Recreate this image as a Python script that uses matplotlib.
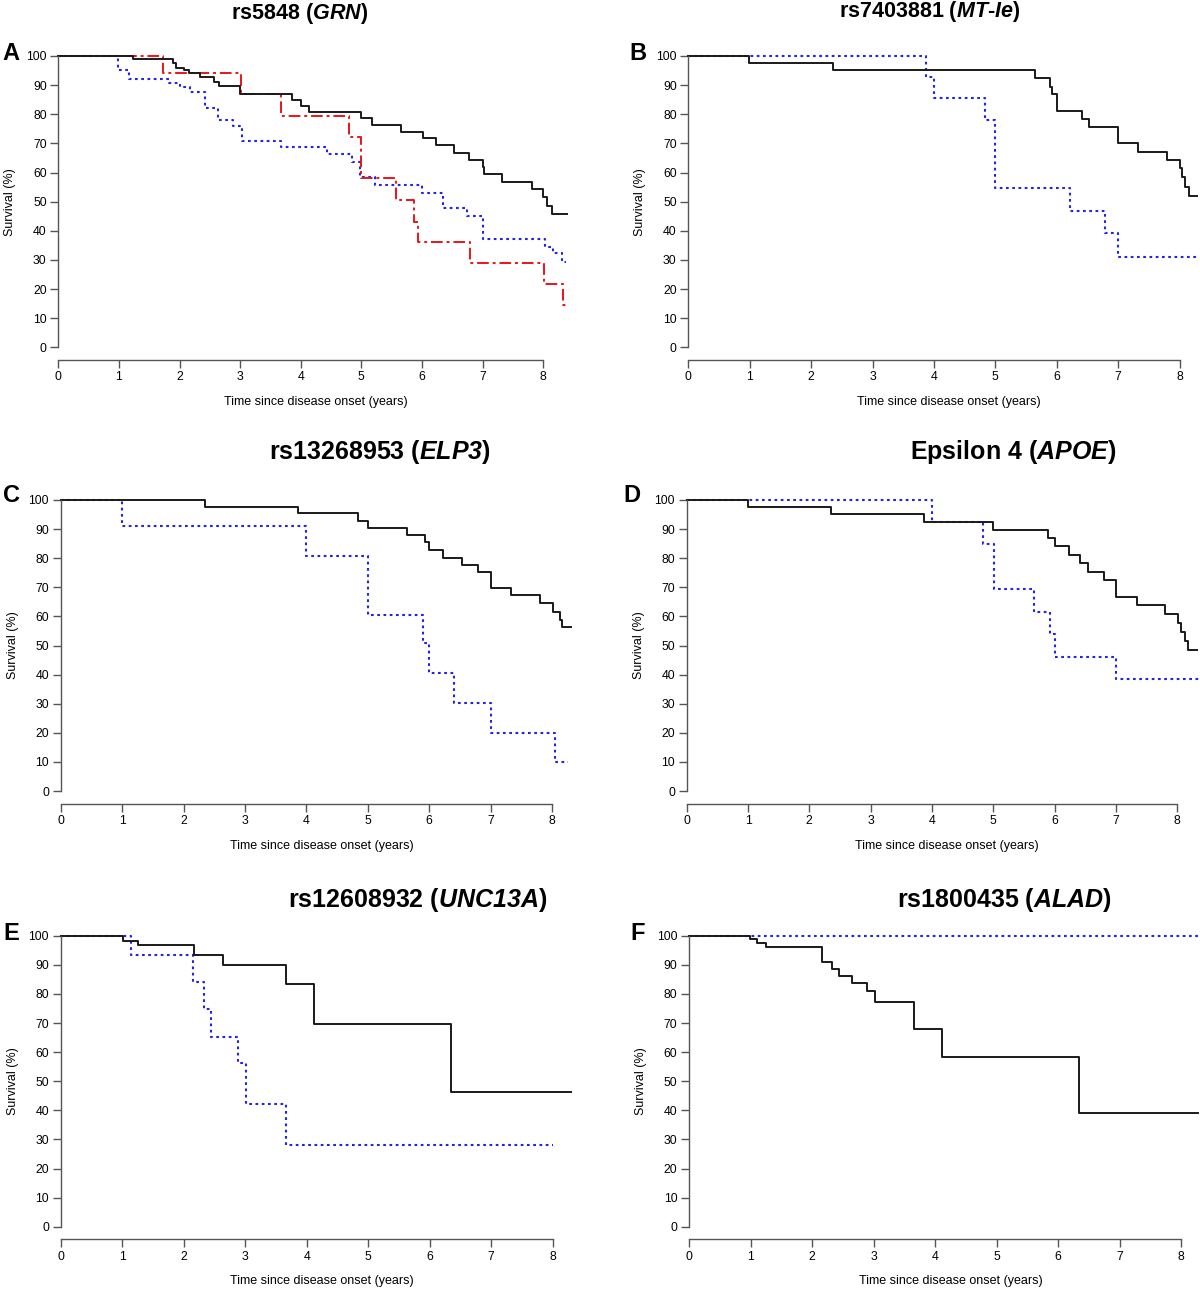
import numpy as np
import matplotlib
matplotlib.use("Agg")
from matplotlib import pyplot as plt

plt.rcParams['font.family'] = ['Liberation Sans', 'DejaVu Sans']
plt.rcParams['mathtext.fontset'] = 'custom'
# gene names: bold italic, digits included
plt.rcParams['mathtext.it'] = 'Liberation Sans:italic:bold'
plt.rcParams['mathtext.rm'] = 'Liberation Sans:italic:bold'

W, H = 1200, 1292

# --- survival curves (time in years, survival in %) ---
a_black_t = [0, 1.24, 1.90, 1.95, 2.08, 2.16, 2.34, 2.57, 2.65, 3.00, 3.86, 4.00, 4.13, 5.00, 5.17,
             5.65, 6.01, 6.23, 6.53, 6.77, 7.00, 7.02, 7.33, 7.81, 8.00, 8.07, 8.14, 8.40]
a_black_s = [100, 98.9, 97.7, 96.0, 95.2, 94.1, 92.7, 91.2, 89.8, 86.9, 84.9, 82.8, 80.8, 78.6, 76.3,
             74.0, 71.7, 69.3, 66.8, 64.3, 62.0, 59.4, 56.9, 54.2, 51.5, 48.6, 45.8, 45.8]
a_red_t = [0, 1.73, 3.01, 3.67, 4.80, 5.00, 5.58, 5.87, 5.93, 6.80, 8.01, 8.33, 8.40]
a_red_s = [100, 94.1, 86.9, 79.4, 72.3, 58.0, 50.6, 43.1, 36.3, 29.0, 21.7, 14.5, 14.5]
a_blue_t = [0, 0.99, 1.16, 1.82, 2.01, 2.17, 2.42, 2.64, 2.89, 3.03, 3.67, 4.43, 4.84, 4.98, 5.23,
            6.00, 6.35, 6.74, 7.00, 8.03, 8.17, 8.31, 8.38]
a_blue_s = [100, 95.2, 92.1, 90.8, 89.5, 87.8, 82.0, 78.0, 76.0, 70.8, 68.7, 66.2, 63.7, 58.6, 55.7,
            53.1, 47.7, 45.2, 37.2, 34.5, 32.3, 29.4, 29.4]

b_black_t = [0, 0.99, 2.36, 5.64, 5.89, 5.93, 6.00, 6.41, 6.52, 7.00, 7.33, 7.79, 8.00, 8.04, 8.09, 8.15, 8.29]
b_black_s = [100, 97.7, 95.2, 92.6, 89.5, 87.0, 81.2, 78.4, 75.5, 70.0, 67.2, 64.3, 61.4, 58.6, 55.1, 52.0, 52.0]
b_blue_t = [0, 3.87, 4.00, 4.84, 5.00, 6.22, 6.79, 7.00, 8.29]
b_blue_s = [100, 92.9, 85.7, 78.0, 54.6, 46.8, 39.1, 31.1, 31.1]

c_black_t = [0, 2.35, 3.87, 4.85, 5.01, 5.64, 5.93, 6.00, 6.22, 6.53, 6.80, 7.01, 7.33, 7.80, 8.01, 8.13, 8.17, 8.31]
c_black_s = [100, 97.7, 95.4, 92.9, 90.5, 88.0, 85.4, 82.8, 80.2, 77.6, 75.1, 69.9, 67.3, 64.6, 61.6, 58.8, 56.2, 56.2]
c_blue_t = [0, 1.0, 4.0, 5.01, 5.9, 6.0, 6.41, 7.0, 8.05, 8.26]
c_blue_s = [100, 90.9, 80.8, 60.5, 50.7, 40.4, 30.3, 20.1, 10.0, 10.0]

d_black_t = [0, 1.0, 2.35, 3.87, 5.0, 5.90, 6.01, 6.23, 6.42, 6.54, 6.81, 7.01, 7.34, 7.81, 8.01, 8.06, 8.13, 8.17, 8.32]
d_black_s = [100, 97.7, 95.1, 92.5, 89.7, 86.8, 84.2, 81.1, 78.2, 75.4, 72.5, 66.5, 63.8, 60.7, 57.6, 54.6, 51.5, 48.5, 48.5]
d_blue_t = [0, 4.0, 4.84, 5.01, 5.66, 5.93, 6.01, 7.01, 8.35]
d_blue_s = [100, 92.3, 84.8, 69.3, 61.5, 53.8, 46.2, 38.5, 38.5]

e_black_t = [0, 1.01, 1.25, 2.17, 2.64, 3.67, 4.12, 6.34, 8.29]
e_black_s = [100, 98.3, 96.7, 93.5, 90.0, 83.4, 69.5, 46.3, 46.3]
e_blue_t = [0, 1.14, 2.15, 2.33, 2.44, 2.89, 3.02, 3.66, 8.01]
e_blue_s = [100, 93.5, 84.2, 74.7, 65.3, 56.2, 42.2, 28.0, 28.0]

f_black_t = [0, 0.99, 1.10, 1.25, 2.16, 2.33, 2.44, 2.65, 2.89, 3.02, 3.66, 4.12, 6.34, 8.28]
f_black_s = [100, 98.7, 97.4, 96.0, 91.1, 88.6, 86.2, 83.6, 81.1, 77.1, 67.9, 58.4, 39.0, 39.0]
f_blue_t = [0, 8.28]
f_blue_s = [100, 100]

letters = ['A', 'B', 'C', 'D', 'E', 'F']
titles = [r'rs5848 ($\mathit{GRN}$)', r'rs7403881 ($\mathit{MT}$-$\mathit{Ie}$)',
          r'rs13268953 ($\mathit{ELP3}$)', r'Epsilon 4 ($\mathit{APOE}$)',
          r'rs12608932 ($\mathit{UNC13A}$)', r'rs1800435 ($\mathit{ALAD}$)']
x_ticks = list(range(0, 9))
y_ticks = list(range(0, 101, 10))

# pixel layout: x of t=0, y of 100 %, y of 0 %, pixels per year
boxes = [(58.3, 56, 347.3, 60.6), (688.3, 56, 347.3, 61.4),
         (60.7, 500, 791, 61.4), (686.7, 500, 791, 61.3),
         (60.7, 935.7, 1226.7, 61.5), (689, 935.7, 1226.7, 61.5)]
title_pos = [(300, 13), (930, 11), (380, 452), (1013, 452), (418, 900), (1004, 900)]
title_size = [15.5, 15.5, 18, 18, 18, 18]
letter_pos = [(11, 54), (638, 54), (11, 495), (632, 495), (11, 934), (638, 934)]

curves = [
    [(a_black_t, a_black_s, 'k'), (a_red_t, a_red_s, 'r'), (a_blue_t, a_blue_s, 'b')],
    [(b_black_t, b_black_s, 'k'), (b_blue_t, b_blue_s, 'b')],
    [(c_black_t, c_black_s, 'k'), (c_blue_t, c_blue_s, 'b')],
    [(d_black_t, d_black_s, 'k'), (d_blue_t, d_blue_s, 'b')],
    [(e_black_t, e_black_s, 'k'), (e_blue_t, e_blue_s, 'b')],
    [(f_black_t, f_black_s, 'k'), (f_blue_t, f_blue_s, 'b')],
]
styles = {
    'k': dict(color='#1a1a1a', lw=1.4, ls='-'),
    'r': dict(color='#e8141c', lw=1.4, ls=(0, (6, 2, 1.5, 2))),
    'b': dict(color='#2323e0', lw=1.5, ls=(0, (1.3, 1.7))),
}

fig = plt.figure(figsize=(W / 100, H / 100), dpi=100)
axis_grey = '#555555'

for i in range(6):
    x0, y100, y0, scale = boxes[i]
    ax = fig.add_axes([x0 / W, 1 - y0 / H, 8.5 * scale / W, (y0 - y100) / H])
    # blue first, black on top like the original
    for t, s, key in reversed(curves[i]):
        ax.step(t, s, where='post', clip_on=False, **styles[key])
    ax.set_xlim(0, 8.5)
    ax.set_ylim(0, 100)
    for side in ['top', 'right']:
        ax.spines[side].set_visible(False)
    ax.spines['bottom'].set_position(('outward', 9))
    ax.spines['bottom'].set_bounds(0, 8)
    ax.spines['left'].set_bounds(0, 100)
    for side in ['bottom', 'left']:
        ax.spines[side].set_color(axis_grey)
        ax.spines[side].set_linewidth(1.0)
    ax.set_xticks(x_ticks)
    ax.set_yticks(y_ticks)
    ax.tick_params(axis='both', direction='out', length=6, width=1.0, color=axis_grey,
                   labelsize=8.8, pad=2.4)
    ax.set_xlabel('Time since disease onset (years)', fontsize=9, labelpad=9)
    ax.set_ylabel('Survival (%)', fontsize=9, labelpad=7)

    tx, ty = title_pos[i]
    fig.text(tx / W, 1 - ty / H, titles[i], fontsize=title_size[i], fontweight='bold',
             ha='center', va='center')
    lx, ly = letter_pos[i]
    fig.text(lx / W, 1 - ly / H, letters[i], fontsize=17, fontweight='bold', ha='center', va='center')

fig.savefig('out.png', dpi=100)
